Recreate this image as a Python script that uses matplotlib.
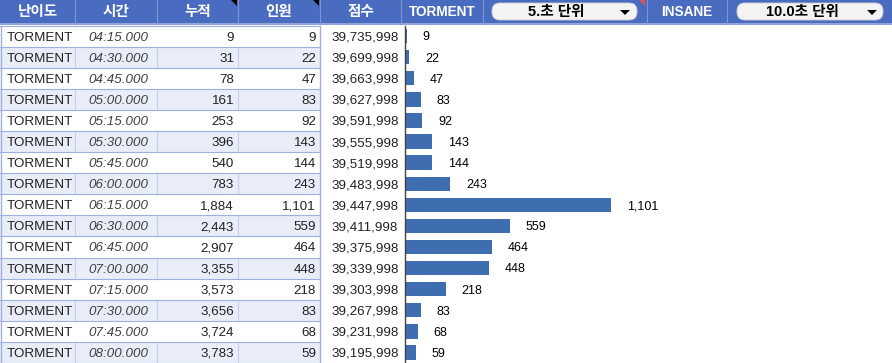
import matplotlib.pyplot as plt
from matplotlib.patches import Rectangle, FancyBboxPatch, Polygon

plt.rcParams['font.family'] = ['Liberation Sans', 'Noto Sans CJK KR']

# data
headers = ["난이도", "시간", "누적", "인원", "점수"]
difficulty = ["TORMENT"] * 16
times = ["04:15.000", "04:30.000", "04:45.000", "05:00.000", "05:15.000", "05:30.000",
         "05:45.000", "06:00.000", "06:15.000", "06:30.000", "06:45.000", "07:00.000",
         "07:15.000", "07:30.000", "07:45.000", "08:00.000"]
cumulative = [9, 31, 78, 161, 253, 396, 540, 783, 1884, 2443, 2907, 3355, 3573, 3656, 3724, 3783]
people = [9, 22, 47, 83, 92, 143, 144, 243, 1101, 559, 464, 448, 218, 83, 68, 59]
scores = [39735998, 39699998, 39663998, 39627998, 39591998, 39555998, 39519998, 39483998,
          39447998, 39411998, 39375998, 39339998, 39303998, 39267998, 39231998, 39195998]
filters = [("TORMENT", "5.초 단위"), ("INSANE", "10.0초 단위")]

W, H = 892, 363
HEAD = 23.5
TOP = 25.5
ROW = (H - TOP) / len(times)
COLS = [0, 75, 157, 238, 320, 401]
BLUE = "#4A6CC0"
LIGHT = "#E8EDF8"
LINE = "#9EB0DD"
FS = 9.6

fig = plt.figure(figsize=(W / 100, H / 100), dpi=100)
ax = fig.add_axes([0, 0, 1, 1])
ax.set_xlim(0, W)
ax.set_ylim(H, 0)
ax.axis("off")

# header band
ax.add_patch(Rectangle((0, 0), W, HEAD, color=BLUE, lw=0))
ax.plot([0, W], [HEAD, HEAD], color="#8FA5DC", lw=1.5)
for i, h in enumerate(headers):
    ax.text((COLS[i] + COLS[i + 1]) / 2, HEAD / 2 + 0.5, h, color="white", fontsize=10.5,
            fontweight="bold", ha="center", va="center")
for x in COLS[1:]:
    ax.plot([x, x], [0, HEAD], color="#7D95D3", lw=0.8)
# comment markers on 누적 / 인원
for x in (COLS[3], COLS[4]):
    ax.add_patch(Polygon([(x - 7, 0), (x - 1, 0), (x - 1, 6)], color="black", lw=0))

# filter cells on the right
seps = [401, 483, 647, 727]
for x in seps:
    ax.plot([x, x], [0, HEAD], color="#7D95D3", lw=0.8)
boxes = [(492, 637, 625), (737, 883, 872)]
for (label, choice), (x0, x1, ax_x), lx in zip(filters, boxes, [442, 687]):
    ax.text(lx, HEAD / 2 + 0.5, label, color="white", fontsize=9.8, fontweight="bold",
            ha="center", va="center")
    ax.add_patch(FancyBboxPatch((x0, 3), x1 - x0, HEAD - 6.5,
                                boxstyle="round,pad=0,rounding_size=8",
                                fc="#F3F3F3", ec="#D0D0D0", lw=0.6))
    ax.text((x0 + ax_x) / 2 - 2, HEAD / 2 + 0.5, choice, color="black", fontsize=10.5,
            fontweight="bold", ha="center", va="center")
    ax.add_patch(Polygon([(ax_x - 5, 10), (ax_x + 5, 10), (ax_x, 15)], color="black", lw=0))
ax.add_patch(Polygon([(639, 0), (645, 0), (645, 6)], color="#D9534F", lw=0))

# table rows
for i in range(len(times)):
    y0 = TOP + i * ROW
    yc = y0 + ROW / 2 + 1.5
    if i % 2 == 1:
        ax.add_patch(Rectangle((0, y0), COLS[4], ROW, color=LIGHT, lw=0))
        for x in COLS[1:4]:
            ax.plot([x, x], [y0, y0 + ROW], color="#C5D0EC", lw=0.8)
    ax.plot([0, COLS[4]], [y0, y0], color=LINE, lw=0.8)
    ax.text(7, yc, difficulty[i], fontsize=FS, color="#222222", ha="left", va="center")
    ax.text(88, yc, times[i], fontsize=FS, color="#404040", style="italic",
            ha="left", va="center")
    ax.text(COLS[3] - 4, yc, f"{cumulative[i]:,}", fontsize=FS, color="#222222",
            ha="right", va="center")
    ax.text(COLS[4] - 4, yc, f"{people[i]:,}", fontsize=FS, color="#222222",
            ha="right", va="center")
    ax.text(331, yc, f"{scores[i]:,}", fontsize=FS, color="#222222", ha="left", va="center")
ax.plot([0, COLS[4]], [H - 0.5, H - 0.5], color=LINE, lw=0.8)
ax.plot([0.5, 0.5], [TOP, H], color=LINE, lw=1)
ax.plot([COLS[4], COLS[4]], [TOP, H], color=LINE, lw=1)

# bar chart of 인원
bx0 = 405
axb = fig.add_axes([bx0 / W, 0, (W - bx0) / W, (H - TOP) / H])
axb.patch.set_alpha(0)
ypos = list(range(len(people)))
axb.barh(ypos, people, height=0.68, color="#3E6DB0")
axb.set_ylim(len(people) - 0.5, -0.5)
axb.set_xlim(0, 1101 * (W - bx0) / 206)
for y, v in zip(ypos, people):
    axb.annotate(f"{v:,}", (v, y), xytext=(11.5, -1), textcoords="offset points",
                 fontsize=9, color="black", ha="left", va="center")
for s in ["top", "right", "bottom"]:
    axb.spines[s].set_visible(False)
axb.spines["left"].set_color("#444444")
axb.spines["left"].set_linewidth(1)
axb.set_xticks([])
axb.set_yticks([])

fig.savefig("out.png", dpi=100)
